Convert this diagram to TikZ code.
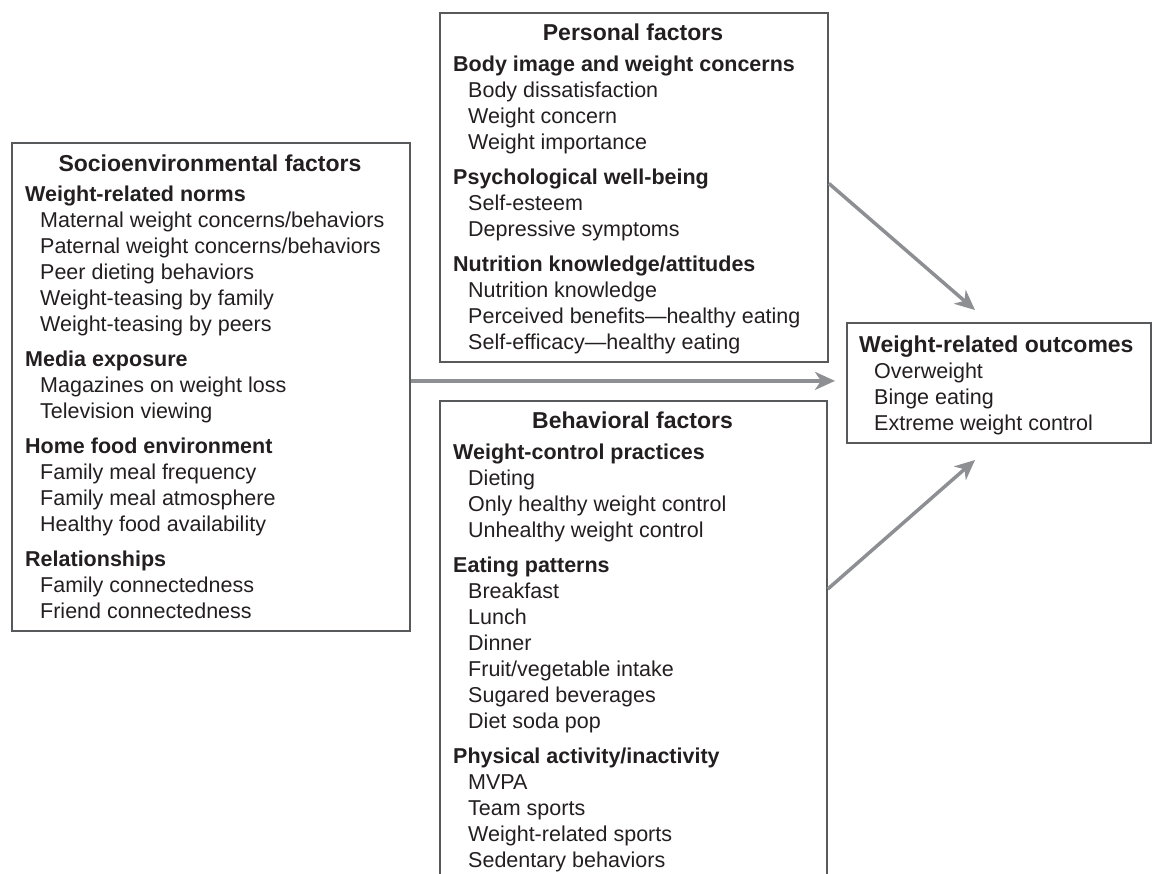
\documentclass[tikz,border=0pt]{standalone}
\usepackage{fontspec}
\setmainfont{Liberation Sans}
\usetikzlibrary{arrows.meta}
\definecolor{txt}{HTML}{231F20}
\definecolor{boxc}{HTML}{58595B}
\definecolor{arrc}{HTML}{8E8F93}
\newcommand{\itm}{\hspace*{15pt}}
\newcommand{\hd}[1]{\textbf{#1}}
\begin{document}
\begin{tikzpicture}[x=1pt,y=-1pt,
  box/.style={draw=boxc, line width=1.8pt, inner sep=0pt, anchor=north west},
  ttl/.style={anchor=base, inner sep=0pt, text=txt, font=\fontsize{23}{26}\selectfont\bfseries},
  body/.style={anchor=base west, inner sep=0pt, text=txt, font=\fontsize{21.5}{26}\selectfont},
  arr/.style={draw=arrc, line width=3.5pt, -{Stealth[length=20pt,width=18pt,inset=6pt]}}]
\useasboundingbox (0,0) rectangle (1153,873);
\clip (0,0) rectangle (1153,873);
% boxes
\node[box, minimum width=398pt, minimum height=488pt] (socio) at (11,142) {};
\node[box, minimum width=388pt, minimum height=349pt] (personal) at (439,12) {};
\node[box, minimum width=387pt, minimum height=500pt] (behav) at (439,400) {};
\node[box, minimum width=304pt, minimum height=120pt] (outc) at (846,322) {};
% titles
\node[ttl] (sociot) at (210,171) {Socioenvironmental factors};
\node[ttl] (personalt) at (633,40) {Personal factors};
\node[ttl] (behavt) at (632.5,428) {Behavioral factors};
% bodies
\node[body] (sociob) at (25,201.7) {\begin{tabular}[t]{@{}l@{}}
\hd{Weight-related norms}\\
\itm Maternal weight concerns/behaviors\\
\itm Paternal weight concerns/behaviors\\
\itm Peer dieting behaviors\\
\itm Weight-teasing by family\\
\itm Weight-teasing by peers\\[9pt]
\hd{Media exposure}\\
\itm Magazines on weight loss\\
\itm Television viewing\\[9pt]
\hd{Home food environment}\\
\itm Family meal frequency\\
\itm Family meal atmosphere\\
\itm Healthy food availability\\[9pt]
\hd{Relationships}\\
\itm Family connectedness\\
\itm Friend connectedness
\end{tabular}};
\node[body] (personalb) at (453,71.7) {\begin{tabular}[t]{@{}l@{}}
\hd{Body image and weight concerns}\\
\itm Body dissatisfaction\\
\itm Weight concern\\
\itm Weight importance\\[9pt]
\hd{Psychological well-being}\\
\itm Self-esteem\\
\itm Depressive symptoms\\[9pt]
\hd{Nutrition knowledge/attitudes}\\
\itm Nutrition knowledge\\
\itm Perceived benefits—healthy eating\\
\itm Self-efficacy—healthy eating
\end{tabular}};
\node[body] (behavb) at (453,459.7) {\begin{tabular}[t]{@{}l@{}}
\hd{Weight-control practices}\\
\itm Dieting\\
\itm Only healthy weight control\\
\itm Unhealthy weight control\\[9pt]
\hd{Eating patterns}\\
\itm Breakfast\\
\itm Lunch\\
\itm Dinner\\
\itm Fruit/vegetable intake\\
\itm Sugared beverages\\
\itm Diet soda pop\\[9pt]
\hd{Physical activity/inactivity}\\
\itm MVPA\\
\itm Team sports\\
\itm Weight-related sports\\
\itm Sedentary behaviors
\end{tabular}};
\node[body] (outcb) at (859,352.7) {\begin{tabular}[t]{@{}l@{}}
{\fontsize{23}{26}\selectfont\hd{Weight-related outcomes}}\\
\itm Overweight\\
\itm Binge eating\\
\itm Extreme weight control
\end{tabular}};
% arrows
\coordinate (tip1) at (975,310);
\coordinate (tip2) at (975,460);
\draw[arr] ([yshift=4pt]personal.east) -- (tip1);
\draw[arr] ([yshift=-189pt]behav.north east) -- (tip2);
\draw[arr, shorten >=11pt] ([yshift=6pt]socio.east) -- ([yshift=2pt]outc.west);
\end{tikzpicture}
\end{document}
